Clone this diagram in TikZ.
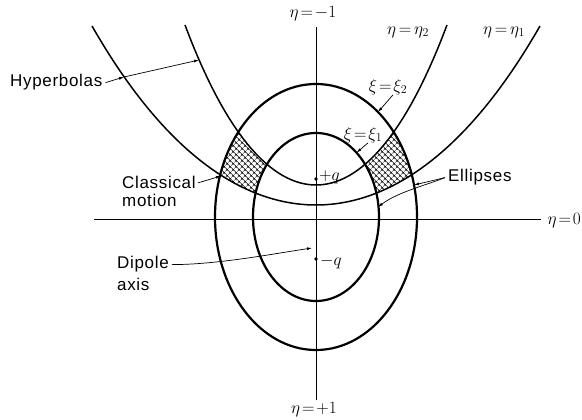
\documentclass[tikz,border=0pt]{standalone}
\usepackage{fontspec}
\setmainfont{Liberation Sans}[LetterSpace=4]
\usetikzlibrary{arrows.meta, patterns.meta}

\newcommand{\etaone}{205-32.38*\x*\x-0.656*\x*\x*\x*\x}
\newcommand{\etatwo}{185-84.78*\x*\x-4.93*\x*\x*\x*\x}

\begin{document}
\begin{tikzpicture}[
      x=1pt, y=-1pt,
      every node/.style={inner sep=0pt},
      txt/.style={font=\fontsize{17}{20}\selectfont},
      lbl/.style={font=\fontsize{17}{19}\selectfont},
      ellipse line/.style={line width=2.2pt},
      hyp line/.style={line width=1.5pt},
      axis/.style={line width=0.7pt},
      arr/.style={-{Latex[length=5pt,width=3pt]}, line width=0.7pt},
      charge/.style={circle, fill, minimum size=3.8pt},
    ]
    \useasboundingbox (0,0) rectangle (582,420);

    % hatched regions of classical motion
    \begin{scope}
      \clip plot[domain=-2.24:2.24, samples=80] ({316+100*\x},{\etaone})
        -- plot[domain=1.31:-1.31, samples=60] ({316+100*\x},{\etatwo}) -- cycle;
      \fill[pattern={Hatch[angle=45, distance=4pt, line width=0.5pt]}, even odd rule]
        (316,217) ellipse[x radius=101, y radius=133]
        (316,217) ellipse[x radius=63, y radius=84];
    \end{scope}

    \draw[hyp line] plot[domain=-2.24:2.24, samples=80] ({316+100*\x},{\etaone});
    \draw[hyp line] plot[domain=-1.31:1.31, samples=60] ({316+100*\x},{\etatwo});
    \draw[ellipse line] (316,217) ellipse[x radius=101, y radius=133];
    \draw[ellipse line] (316,217) ellipse[x radius=63, y radius=84];

    \node[lbl] (etatop) at (313,14) {$\eta\mkern2mu{=}\mkern2mu{-}1$};
    \node[lbl] (etabot) at (314,410) {$\eta\mkern2mu{=}\mkern2mu{+}1$};
    \node[lbl, anchor=east] (etazero) at (581,221) {$\eta\mkern2mu{=}\mkern2mu0$};
    \coordinate (vtop) at (316,27);
    \coordinate (vbot) at (316,400);
    \coordinate (hleft) at (94,219);
    \draw[axis] (vtop) -- (vbot);
    \draw[axis, shorten >=6pt] (hleft) -- (hleft -| etazero.west);

    \node[lbl] (etaonel) at (504,32) {$\eta\,{=}\,\eta_1$};
    \node[lbl] (etatwol) at (408,32) {$\eta\,{=}\,\eta_2$};
    \node[lbl] (xitwo) at (388,87) {$\xi\mkern2mu{=}\mkern2mu\xi_2$};
    \node[lbl] (xione) at (363,135) {$\xi\mkern2mu{=}\mkern2mu\xi_1$};
    \coordinate (xitwoT) at (378,112);
    \coordinate (xioneT) at (356.5,152.7);
    \draw[arr] ([xshift=5pt]xitwo.south) -- (xitwoT);
    \draw[arr] ([xshift=5pt]xione.south) -- (xioneT);

    \node[charge] (qplus) at (316,179) {};
    \node[charge] (qminus) at (316,259) {};
    \node[lbl, anchor=base west] (qplusl) at (319,180) {${+}q$};
    \node[lbl, anchor=base west] (qminusl) at (320,265) {${-}q$};

    \node[txt, anchor=base west] (hyp) at (10,87) {Hyperbolas};
    \coordinate (hypA) at (124,77);
    \coordinate (hypB) at (199,60);
    \draw[arr] ([xshift=3pt]hyp.east) -- (hypA);
    \draw[arr] (hypA) -- (hypB);

    \node[txt, anchor=base west] (clas) at (122,189) {Classical};
    \node[txt, anchor=base west] (motion) at (122,207) {motion};
    \coordinate (clasT) at (221,176);
    \draw[arr] ([xshift=2pt]clas.east) -- (clasT);

    \node[txt, anchor=base west] (dipole) at (117,269) {Dipole};
    \node[txt, anchor=base west] (axislbl) at (117,290) {axis};
    \coordinate (dipT) at (312,248);
    \draw[arr] ([xshift=3pt]dipole.east) .. controls +(45,0) and +(-40,6) .. (dipT);

    \node[txt, anchor=base west] (ell) at (448,182) {Ellipses};
    \coordinate (ellA) at (414,185);
    \coordinate (ellB) at (378,207);
    \draw[arr] ([xshift=-3pt]ell.west) -- (ellA);
    \draw[arr] ([xshift=-3pt]ell.west) .. controls +(-20,8) and +(20,-15) .. (ellB);
  \end{tikzpicture}
\end{document}
